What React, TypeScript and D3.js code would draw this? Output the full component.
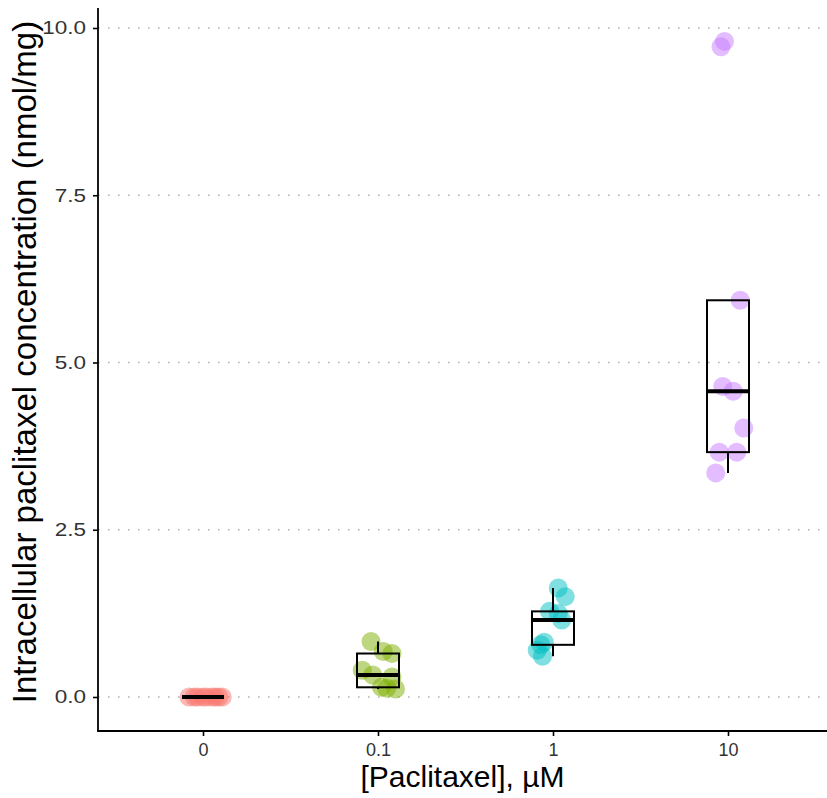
import React, { useEffect, useRef } from 'react'
import * as d3 from 'd3'

// dose groups on the x axis
const doses = ['0', '0.1', '1', '10']
const doseColors = ['#F8766D', '#7CAE00', '#00BFC4', '#C77CFF']
const yTicks = [0, 2.5, 5, 7.5, 10]

// intracellular concentration (nmol/mg), per dose group
const conc0 = [0, 0, 0, 0, 0, 0, 0, 0, 0]
const conc01 = [0.83, 0.68, 0.65, 0.4, 0.33, 0.3, 0.145, 0.13, 0.12]
const conc1 = [1.63, 1.5, 1.28, 1.25, 1.15, 0.82, 0.78, 0.7, 0.61]
const conc10 = [9.8, 9.72, 5.93, 4.64, 4.57, 4.02, 3.66, 3.66, 3.35]

// horizontal jitter of each point, in category widths
const jit0 = [-0.08, -0.05, -0.03, 0.0, 0.02, 0.05, 0.07, 0.09, 0.11]
const jit01 = [-0.04, 0.03, 0.08, -0.09, -0.03, 0.08, 0.02, 0.05, 0.1]
const jit1 = [0.03, 0.07, -0.02, 0.03, 0.05, -0.05, -0.07, -0.09, -0.06]
const jit10 = [-0.02, -0.04, 0.07, -0.03, 0.03, 0.09, -0.05, 0.05, -0.07]

const groups = [conc0, conc01, conc1, conc10]
const jitters = [jit0, jit01, jit1, jit10]

const W = 827
const H = 798

export default function App() {
  const ref = useRef<SVGSVGElement>(null)

  useEffect(() => {
    const svg = d3.select(ref.current)
    svg.selectAll('*').remove()

    const left = 98, top = 8, bottom = 731
    const x = d3.scalePoint<string>().domain(doses).range([203, 728])
    const y = d3.scaleLinear().domain([0, 10]).range([697, 28])
    const step = x.step()
    const font = "'Liberation Sans', Arial, sans-serif"

    // dotted grid
    svg.append('g')
      .selectAll('line')
      .data(yTicks)
      .enter()
      .append('line')
      .attr('x1', left).attr('x2', W)
      .attr('y1', d => y(d)).attr('y2', d => y(d))
      .attr('stroke', '#b3b3b3')
      .attr('stroke-width', 1.6)
      .attr('stroke-dasharray', '1.6,8.4')

    // points
    groups.forEach((vals, gi) => {
      svg.append('g')
        .selectAll('circle')
        .data(vals)
        .enter()
        .append('circle')
        .attr('cx', (d, i) => (x(doses[gi]) as number) + jitters[gi][i] * step)
        .attr('cy', d => y(d))
        .attr('r', 9.5)
        .attr('fill', doseColors[gi])
        .attr('fill-opacity', 0.5)
    })

    // boxplots
    const bw = 0.24 * step
    groups.forEach((vals, gi) => {
      const s = vals.slice().sort(d3.ascending)
      const q1 = d3.quantile(s, 0.25) as number
      const med = d3.quantile(s, 0.5) as number
      const q3 = d3.quantile(s, 0.75) as number
      const iqr = q3 - q1
      const lo = d3.min(s.filter(v => v >= q1 - 1.5 * iqr)) as number
      const hi = d3.max(s.filter(v => v <= q3 + 1.5 * iqr)) as number
      const cx = x(doses[gi]) as number
      const g = svg.append('g').attr('stroke', '#000').attr('fill', 'none')
      g.append('line').attr('x1', cx).attr('x2', cx).attr('y1', y(q3)).attr('y2', y(hi)).attr('stroke-width', 2)
      g.append('line').attr('x1', cx).attr('x2', cx).attr('y1', y(q1)).attr('y2', y(lo)).attr('stroke-width', 2)
      g.append('rect')
        .attr('x', cx - bw / 2).attr('width', bw)
        .attr('y', y(q3)).attr('height', y(q1) - y(q3))
        .attr('stroke-width', 2)
      g.append('line')
        .attr('x1', cx - bw / 2).attr('x2', cx + bw / 2)
        .attr('y1', y(med)).attr('y2', y(med))
        .attr('stroke-width', 4)
    })

    // axes
    const ya = svg.append('g').attr('transform', `translate(${left},0)`)
      .call(d3.axisLeft(y).tickValues(yTicks).tickFormat(d3.format('.1f')).tickSize(5).tickSizeOuter(0).tickPadding(7))
    ya.select('.domain').remove()
    ya.append('line').attr('x1', 0).attr('x2', 0).attr('y1', top).attr('y2', bottom).attr('stroke', '#000').attr('stroke-width', 1.8)

    const xa = svg.append('g').attr('transform', `translate(0,${bottom})`)
      .call(d3.axisBottom(x).tickSize(5).tickSizeOuter(0).tickPadding(7))
    xa.select('.domain').remove()
    xa.append('line').attr('x1', left - 0.9).attr('x2', W).attr('y1', 0).attr('y2', 0).attr('stroke', '#000').attr('stroke-width', 1.8)

    ya.attr('font-size', 18).attr('font-family', font)
    xa.attr('font-size', 18).attr('font-family', font)
    svg.selectAll('.tick line').attr('stroke', '#000').attr('stroke-width', 1.6)
    svg.selectAll('.tick text').attr('fill', '#333')

    // the y tick labels are drawn a little wider than they are tall
    ya.selectAll<SVGTextElement, number>('.tick text').each(function () {
      const len = this.getComputedTextLength()
      d3.select(this).attr('textLength', len * 1.25).attr('lengthAdjust', 'spacingAndGlyphs')
    })

    // titles
    svg.append('text')
      .attr('x', (left + W) / 2)
      .attr('y', 787)
      .attr('text-anchor', 'middle')
      .attr('font-family', font)
      .attr('font-size', 30)
      .text('[Paclitaxel], µM')

    svg.append('text')
      .attr('transform', `translate(36,362) rotate(-90)`)
      .attr('text-anchor', 'middle')
      .attr('font-family', font)
      .attr('font-size', 33)
      .text('Intracellular paclitaxel concentration (nmol/mg)')
  }, [])

  return (
    <svg ref={ref} width={W} height={H} style={{ position: 'absolute', left: 0, top: 0, background: '#fff' }} />
  )
}
